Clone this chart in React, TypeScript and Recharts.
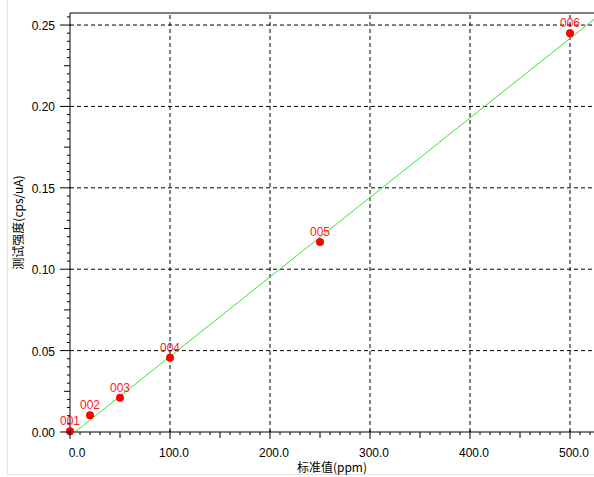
import React from 'react';
import { ComposedChart, Scatter, Line, XAxis, YAxis, ReferenceLine } from 'recharts';

// calibration samples
const sampleIds = ['001', '002', '003', '004', '005', '006'];
const standardValues = [0, 20, 50, 100, 250, 500];
const intensities = [0.0005, 0.0103, 0.0211, 0.0456, 0.1167, 0.245];

// fitted line end points
const fitX = [5, 524];
const fitY = [0, 0.2535];

const xMajorTicks = [0, 100, 200, 300, 400, 500];
const xTickLabels = ['0.0', '100.0', '200.0', '300.0', '400.0', '500.0'];
const yMajorTicks = [0, 0.05, 0.1, 0.15, 0.2, 0.25];
const yTickLabels = ['0.00', '0.05', '0.10', '0.15', '0.20', '0.25'];

const X_MAX = 524;
const Y_MAX = 0.2574;

const points = sampleIds.map((id, i) => ({ id, x: standardValues[i], y: intensities[i] }));
const fitLine = fitX.map((x, i) => ({ x, y: fitY[i] }));

// minor ticks every 10 ppm / 0.005
const xAllTicks: number[] = [];
for (let i = 0; i <= 52; i++) xAllTicks.push(i * 10);
const yAllTicks: number[] = [];
for (let i = 0; i <= 51; i++) yAllTicks.push(i / 200);

const FONT = '"Liberation Sans", Arial, sans-serif';
const CJK = '"Noto Sans CJK SC", sans-serif';

const XTick = (props: any) => {
  const { x, y, payload } = props;
  const v = Math.round(payload.value);
  const major = v % 100 === 0;
  const mid = v % 50 === 0;
  const idx = xMajorTicks.indexOf(v);
  return (
    <g>
      <line x1={x} x2={x} y1={major ? y - 2 : y} y2={y + (major ? 7 : mid ? 6 : 3)} stroke="#000" />
      {idx >= 0 && (
        <text x={x + (v === 0 ? 7 : 4)} y={y + 25} textAnchor="middle" fontSize={12} fontFamily={FONT} fill="#000">
          {xTickLabels[idx]}
        </text>
      )}
    </g>
  );
};

const YTick = (props: any) => {
  const { x, y, payload } = props;
  const i = Math.round(payload.value * 200);
  const major = i % 10 === 0;
  const mid = i % 5 === 0;
  const idx = major ? i / 10 : -1;
  return (
    <g>
      <line x1={major ? x + 1 : x} x2={x - (major ? 10 : mid ? 6 : 3)} y1={y} y2={y} stroke="#000" />
      {idx >= 0 && (
        <text x={x - 15} y={y + 5} textAnchor="end" fontSize={12} fontFamily={FONT} fill="#000">
          {yTickLabels[idx]}
        </text>
      )}
    </g>
  );
};

const YLabel = (props: any) => {
  const { viewBox } = props;
  const cx = 17;
  const cy = viewBox.y + viewBox.height / 2;
  return (
    <text
      x={cx}
      y={cy}
      transform={`rotate(-90 ${cx} ${cy})`}
      textAnchor="middle"
      dominantBaseline="central"
      fontSize={12}
      fontFamily={CJK}
      fill="#000"
    >
      测试强度(cps/uA)
    </text>
  );
};

const Point = (props: any) => {
  const { cx, cy, payload } = props;
  return (
    <g>
      <circle cx={cx} cy={cy} r={4} fill="#ff0000" />
      <text x={cx} y={cy - 6} textAnchor="middle" fontSize={12} fontFamily={FONT} fill="#ff2020">
        {payload.id}
      </text>
    </g>
  );
};

export default function App() {
  return (
    <div
      style={{
        position: 'absolute',
        left: 0,
        top: 0,
        width: 594,
        height: 477,
        background: '#fff',
        overflow: 'hidden',
      }}
    >
      <div
        style={{
          position: 'absolute',
          left: 7,
          top: 0,
          width: 600,
          height: 474,
          borderLeft: '1px solid #e4e4e4',
          borderBottom: '1px solid #e4e4e4',
        }}
      />
      <ComposedChart
        width={594}
        height={477}
        margin={{ top: 13, right: 0, bottom: 0, left: 0 }}
        style={{ position: 'absolute', left: 0, top: 0 }}
      >
        <XAxis
          type="number"
          dataKey="x"
          domain={[0, X_MAX]}
          ticks={xAllTicks}
          interval={0}
          tick={<XTick />}
          tickSize={0}
          tickMargin={0}
          tickLine={false}
          axisLine={{ stroke: '#000' }}
          height={45}
          label={{
            value: '标准值(ppm)',
            position: 'insideBottom',
            offset: 5,
            fontSize: 12,
            fill: '#000',
            fontFamily: CJK,
          }}
        />
        <YAxis
          type="number"
          dataKey="y"
          domain={[0, Y_MAX]}
          ticks={yAllTicks}
          interval={0}
          tick={<YTick />}
          tickSize={0}
          tickMargin={0}
          tickLine={false}
          axisLine={{ stroke: '#000' }}
          width={70}
          label={<YLabel />}
        />
        {yMajorTicks.slice(1).map((v) => (
          <ReferenceLine key={'h' + v} y={v} stroke="#000" strokeDasharray="4 3" />
        ))}
        {xMajorTicks.slice(1).map((v) => (
          <ReferenceLine key={'v' + v} x={v} stroke="#000" strokeDasharray="4 3" />
        ))}
        <ReferenceLine y={Y_MAX} stroke="#000" />
        <Line
          data={fitLine}
          dataKey="y"
          type="linear"
          stroke="#33e833"
          strokeWidth={1}
          dot={false}
          isAnimationActive={false}
        />
        <Scatter data={points} dataKey="y" shape={<Point />} isAnimationActive={false} />
      </ComposedChart>
    </div>
  );
}
